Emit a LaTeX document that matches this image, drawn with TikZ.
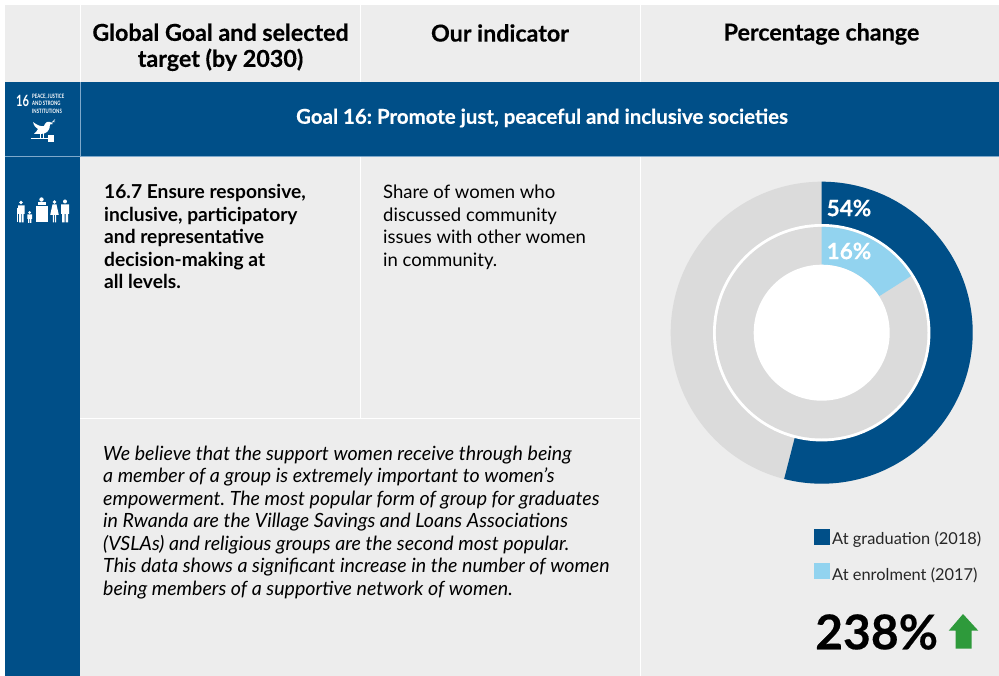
\documentclass[tikz,border=0pt]{standalone}
\usepackage{fontspec}
\setmainfont{Lato}
\frenchspacing
\definecolor{navy}{HTML}{004F88}
\definecolor{sky}{HTML}{92D3EF}
\definecolor{panel}{HTML}{EDEDED}
\definecolor{ringgrey}{HTML}{DBDBDB}
\definecolor{upgreen}{HTML}{2E9A3B}
\definecolor{hairline}{HTML}{7FA9CB}
\newcommand{\heavy}{\bfseries\addfontfeatures{FakeBold=0.35}}
\tikzset{x=1pt,y=-1pt,
 hd/.style={font=\heavy\fontsize{23.3}{26}\selectfont,align=center,text=black,inner sep=0},
 bodytext/.style={align=left,anchor=base west,inner sep=0,text=black},
 legendtext/.style={font=\fontsize{16.4}{20}\selectfont,anchor=west,inner sep=0,text=black!85},
 pct/.style={font=\heavy\fontsize{22.5}{26}\selectfont,text=white,inner sep=0}}
\newcommand{\ringsector}[5]{\fill[#5] ({821.7+#3*cos(#1)},{332.7-#3*sin(#1)}) arc[start angle=-#1,end angle=-#2,radius=#3] -- ({821.7+#4*cos(#2)},{332.7-#4*sin(#2)}) arc[start angle=-#2,end angle=-#1,radius=#4] -- cycle;}
\begin{document}
\begin{tikzpicture}
\useasboundingbox (0,0) rectangle (999,676);
\fill[white] (0,0) rectangle (999,676);
\fill[panel] (5,5) rectangle (999,676);
\draw[white,line width=1pt] (80.5,5)--(80.5,82) (360.5,5)--(360.5,82) (640.5,5)--(640.5,82);
\fill[navy] (5,82) rectangle (999,156);
\fill[navy] (5,156) rectangle (80,676);
\draw[hairline,line width=1pt] (5,156.5)--(999,156.5) (80.5,82)--(80.5,156);
\draw[white,line width=1.2pt] (360.5,157)--(360.5,418) (80,418.5)--(640,418.5) (640.5,157)--(640.5,676);
\node[hd] (h1) at (220.5,47.3) {Global Goal and selected\\target (by 2030)};
\node[hd] (h2) at (500,33) {Our indicator};
\node[hd] (h3) at (821.5,34) {Percentage change};
\node[font=\heavy\fontsize{20.45}{24}\selectfont,text=white,inner sep=0] (g) at (542,118) {Goal 16: Promote just, peaceful and inclusive societies};
\node[bodytext,font=\bfseries\fontsize{19.2}{22.5}\selectfont] (t1) at (104,289) {16.7 Ensure responsive,\\inclusive, participatory\\and representative\\decision-making at\\all levels.};
\node[bodytext,font=\fontsize{18.5}{22.5}\selectfont] (t2) at (383,266.5) {Share of women who\\discussed community\\issues with other women\\in community.};
\node[bodytext,font=\itshape\fontsize{19.6}{22.5}\selectfont] (t3) at (103,595) {We believe that the support women receive through being\\a member of a group is extremely important to women’s\\empowerment. The most popular form of group for graduates\\in Rwanda are the Village Savings and Loans Associations\\(VSLAs) and religious groups are the second most popular.\\This data shows a significant increase in the number of women\\being members of a supportive network of women.};
% donut
\fill[ringgrey] (821.7,332.7) circle[radius=151];
\ringsector{90}{-104.4}{151}{108}{navy}
\fill[white] (821.7,332.7) circle[radius=108.7];
\fill[ringgrey] (821.7,332.7) circle[radius=105.8];
\ringsector{90}{32.4}{105.8}{68}{sky}
\fill[white] (821.7,332.7) circle[radius=68];
\node[pct] (p1) at (849,208) {54\%};
\node[pct] (p2) at (849,251) {16\%};
% legend
\fill[navy] (814,529) rectangle (830,545);
\fill[sky] (814,563) rectangle (830,579);
\node[legendtext] (l1) at (832,540) {At graduation (2018)};
\node[legendtext] (l2) at (832,575) {At enrolment (2017)};
\node[font=\heavy\fontsize{48}{52}\selectfont,text=black,anchor=west,inner sep=0] (big) at (815,632) {238\%};
\fill[upgreen] (963,614) -- (978.3,630.7) -- (971.7,630.7) -- (971.7,648.5) -- (955.7,648.5) -- (955.7,630.7) -- (948.7,630.7) -- cycle;
% SDG 16 icon
\node[font=\bfseries\addfontfeatures{FakeStretch=0.72}\fontsize{15.5}{15}\selectfont,text=white,inner sep=0] (n16) at (22.5,100.5) {16};
\node[font=\bfseries\addfontfeatures{FakeStretch=0.72}\fontsize{6}{7.4}\selectfont,text=white,align=left,anchor=west,inner sep=0] (t16) at (32,103.8) {PEACE, JUSTICE\\AND STRONG\\INSTITUTIONS};
\fill[white] (33,122) .. controls (37,125) and (41,127) .. (44,126) .. controls (45,123) and (47,121) .. (50,122) -- (53,124) -- (50,124.5) .. controls (50,130) and (47,134) .. (41,134) .. controls (38,134) and (36,134) .. (34,134) .. controls (36,132) and (37,131) .. (38,129) .. controls (36,128) and (34,126) .. (33,122) -- cycle;
\draw[white,line width=.6pt] (40,133) -- (40,138) (43,133) -- (43,138);
\draw[white,line width=.9pt] (30.5,138.5) -- (48,138.5);
\fill[white] (48,135) rectangle (54,142.5);
\draw[white,line width=.5pt] (51,123.5) -- (55,119.5) (53,122) -- (55,122);
% people icon
\begin{scope}[white]
\fill (21,202.5) circle[radius=1.9];
\fill (18,205.5) rectangle (24.5,214) (19,214) rectangle (20.9,222.5) (21.6,214) rectangle (23.5,222.5);
\draw[line width=.5pt] (17.3,208) -- (17.3,222.5);
\fill (29.7,212.5) circle[radius=1.5];
\fill (27.3,214.5) rectangle (32,219) (28,219) rectangle (29.3,223) (30.1,219) rectangle (31.4,223);
\fill (41.5,199.5) circle[radius=2.2];
\fill (37.5,202.5) rectangle (45.5,205.5);
\fill (35.5,206.5) rectangle (47.5,222.5);
\fill (54.5,202) circle[radius=1.9];
\fill (52.5,204.5) -- (56.5,204.5) -- (58.8,215) -- (50.2,215) -- cycle;
\fill (52.8,215) rectangle (54,222.5) (55,215) rectangle (56.2,222.5);
\fill (65,201.5) circle[radius=2];
\fill (61,204.5) rectangle (69,214) (62,214) rectangle (64.5,222.5) (65.5,214) rectangle (68,222.5);
\end{scope}
\end{tikzpicture}
\end{document}
